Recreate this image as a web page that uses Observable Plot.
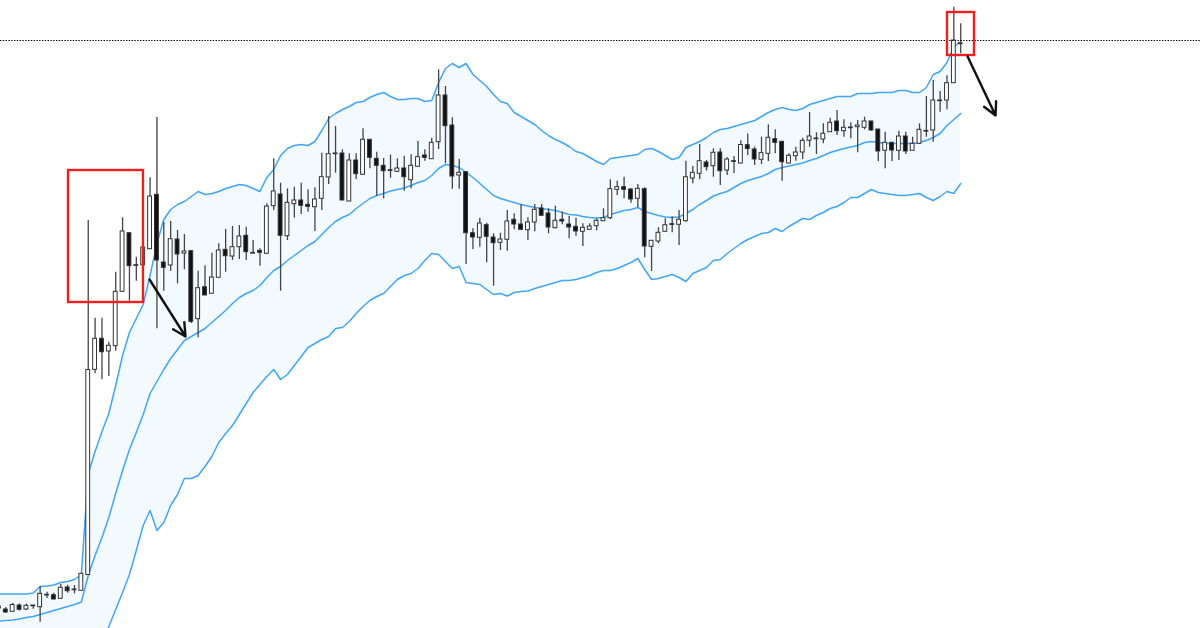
<!DOCTYPE html>
<html>
<head>
<meta charset="utf-8">
<style>html,body{margin:0;padding:0;background:#fff}svg{display:block}</style>
<script src="https://cdn.jsdelivr.net/npm/d3@7"></script>
<script src="https://cdn.jsdelivr.net/npm/@observablehq/plot@0.6"></script>
</head>
<body>
<div id="chart"></div>
<script>
// session index of the first value is -1
const high = [23,21,25,24.5,24.5,23,42,36.3,35.3,44,43.3,43,55.3,408,310.3,310.3,286.3,356.3,410.7,395.3,371.3,381,450.7,511,406.3,407,398,394,378,357.3,362.7,375.3,384.7,399,402,403,401.3,388,379.7,424.7,469.7,445.3,439.7,441.3,445.3,438.7,440.7,475.3,512,502,478.7,474.7,474.7,499.7,488.7,476.3,470,473.4,469.7,472.3,473.7,487,478.7,490.3,558.7,542,510.7,469,456.3,399.7,410.3,405.3,394.7,395.3,418,414.7,423.7,410.7,424,424,419.7,422.3,416.3,412,410.3,404.7,404.7,409.7,419.7,448.7,447.3,451.3,439.7,444,440.7,387.7,400.7,409.7,411.7,418,467.3,462,484,468,479.7,479.7,470.7,472,487.7,494.5,481.3,491.3,503.7,498.7,486.7,474.7,481.3,490.3,516,495.7,504.7,510.3,518,508.7,505.7,508,511.3,507.3,499,496.3,486.3,497.3,496.3,491.3,504.7,532,548,537,552.7,621.3,604.7];
const low = [19,15,16,17.5,18,19.3,6.3,30,28.7,29.5,35.3,34.7,37.3,53,254.7,248.7,252,277.3,336,327.3,347.3,363,378.7,299.7,337.3,357.3,344.7,358.7,305,290.7,333,334.7,350.7,356.3,368,369,368,374.7,362.3,374,418,337.3,388,410.3,414,416.3,397,418,444,455.3,428,427,449,453,459.7,432.3,429.7,450.2,456.3,437.3,439.7,461.3,467.3,469.3,479,464.7,439.3,439.3,364,379,381.3,365.7,342.3,378,377.3,398.7,398,388,396.7,412.7,394.7,399.7,403.7,389.7,392.3,382,398.7,397.7,407.3,409,433,429.7,425.3,420.7,370.7,357,384.7,396.3,395.7,383,406.3,444.7,449,457.3,451.3,443,453,455,464.7,473,463,464,467,474.7,447.3,464.7,467.3,469,481.3,474,484.7,496.3,493,491.3,489.7,475.7,498.7,497.3,467,459.7,467,468,474,477.7,484,491.3,486.3,516.3,518.7,545.3,574.7];
const open = [20,19,16.7,23,19,23,21.3,33.7,33.3,29.7,41,39,37.7,53.5,258.7,289.7,277,282.3,336.7,395.3,363.3,363.3,379.3,433.7,366,363,389,375,377.3,309.3,341.3,334.7,350.7,378.7,372,381.3,392.7,375.6,377.7,374.7,422.3,434,392.3,424.3,428,423.7,421.3,429.7,451,475,475,427,468,453.7,488.7,469.7,462.7,458.3,456.7,460,448.3,461.7,473,469.3,486.3,533,503,453,456.3,395.3,390.7,403.3,391,385.7,388.7,408.7,404,398.3,406,420,415,400.3,408.7,404,401.7,396.7,398.7,402.3,407.3,410.3,438.7,441.3,439,429.7,439.3,381.7,387,396.7,404.3,403.7,407.3,450,454.7,466,462.3,476,458,467.3,465,483.3,479,468.7,474.7,489.3,486.7,465,472.3,476,487.7,490,489,496.3,507,497.3,501,501.3,500.7,507,499,477.7,485.7,477.7,492,477.7,484.7,497.6,498,528,528,545.3,585];
const close = [22,16,23.5,18.7,22.7,22.2,34.7,33,29,40.7,37.3,38.3,54.7,258.5,289.7,276.3,282.7,336.7,397,362.3,362.6,381,432,368,360.7,389.3,374,377,306.7,340.3,333,351,378,372.3,381.3,392,376.3,374.9,375.7,422,437,392.7,425.7,428,422.7,421.7,429,451.3,474.3,474.3,428,468,454.3,488.7,470.7,462.7,457.3,457.6,460,451.3,462.7,471.3,470.7,485.7,533,502.3,452,455.7,395.3,391,405,391.7,385.3,389,407,404,398.7,406,418.7,412.7,401,407.7,407,401,397,400.7,402,407.7,410.3,439.3,441.3,438.7,429,439.7,382,387.7,395.7,403.3,403.6,408.7,451.3,455.7,467.3,461.3,475.7,457.3,469,466.6,483.5,479.5,469,475.3,490.7,485.7,466.3,472.7,476,487.7,492,489.3,494.7,505.7,497.3,500.7,500.3,503,507,498,477,485.7,478,492,477,484.7,498.7,496.9,528,527.3,545.3,588,584.3];
const upper = [34.5,34.5,34.5,34.5,34.5,35.5,42,42.5,43.5,46,47,49,54,155,177,197,215,243,273,296,310,324,353,385,409,419,424,427,432,437,434,435,437,440,442,444,443,440,437,451,459,473,480,483,484,483,487,498,510,515,519,522,526,527,531,534,536,532,529,529,530,530,527,528,546,560,565,561,565,554,548,542,534,527,525,516,512,508,504,498,493,489,486,482,477,475,471,467,464,470,471,472,473,474,479,480,477,473,469,471,481,484,487,491,496,499,500,502,504,506,508,512,516,519,521,519,518,520,524,526,528,530,532,532,532,535,535,535,536,536,536,538,538,536,536,541,554,557,566,582,587];
const middle = [7.5,8,8.5,9.5,11,12,14,16,18,20,22,24,26.5,53,73,91,111,135,158,179,196,214,235,247,259,270,279,288,292,296,300,306,312,318,325,331,335,338,343,351,358,362,368,373,378,383,387,394,401,407,411,414,420,425,430,433,435,437.5,439,440.5,443,446,448,453,460,464,463,461,456,451,445,439,433,430,428,426,424,422.5,421,420,419,418,416,414,413.5,412,411,410.5,411,414,416,418,419,421,417,415,413,411.5,411,411.5,415,419,424,428,432.5,435,437,441,445,448,450,452,455,459,461,462.5,464,465.5,468,470,473,476,478,480,481.5,483,486,487,486,485,485,485,485,485,486,488,491,495,503,509,515];
const lower = [-19,-18.5,-17.5,-15.5,-12.5,-11.5,-14,-10.5,-7.5,-6,-3,-1,-1,-49,-31,-15,2,19,36,54,78,103,118,98,106,123,134,150,150,153,162,172,186,195,203,214,225,236,244,252,259,249,254,263,272,281,285,289,292,300,301,307,315,322,328,332,335,342,349,353,355,360,368,375,374,367,360,362,346,345,344,339,334,335,332.5,336,337,337.5,340,342,344,346,348,348,349,351,353,356,358,358,360,363,366,370,359,349,350,352,354,351,347,355,358,361,368,369,375,380,385,389,392,395,396,400,397,402,406,410,409,413,416,420,422,426,431,431,435,439,436,435,434,433,433,434,435,431,428,432,437,435,445];

const resistance = 588;
const boxes = [
  {from: 9.13, to: 20.04, bottom: 326, top: 458},
  {from: 137.07, to: 141, bottom: 573, top: 616}
];
const arrows = [
  {from: 20.92, to: 26.16, start: 349, end: 292},
  {from: 140, to: 144.07, start: 572, end: 513}
];

const candles = high.map((h, i) => ({
  session: i - 1, high: h, low: low[i], open: open[i], close: close[i],
  upper: upper[i], middle: middle[i], lower: lower[i]
}));
const bandColor = "#42a5f5";

const chart = Plot.plot({
  width: 1200, height: 628,
  marginTop: 0, marginRight: 0, marginBottom: 0, marginLeft: 0,
  x: {domain: [-0.77, 173.9], range: [0, 1200], axis: null},
  y: {domain: [0, 628], range: [628, 0], axis: null},
  marks: [
    Plot.areaY(candles, {x: "session", y1: "lower", y2: "upper", fill: "#f2f9ff", clip: true}),
    Plot.line(candles, {x: "session", y: "upper", stroke: bandColor, strokeWidth: 1.5, curve: "linear"}),
    Plot.line(candles, {x: "session", y: "middle", stroke: bandColor, strokeWidth: 1.5, curve: "linear"}),
    Plot.line(candles, {x: "session", y: "lower", stroke: bandColor, strokeWidth: 1.5, curve: "linear", clip: true}),
    Plot.ruleX(candles, {x: "session", y1: "low", y2: "high", stroke: "#444", strokeWidth: 1.3}),
    Plot.rect(candles, {
      x1: d => d.session - 0.28, x2: d => d.session + 0.28,
      y1: "open", y2: "close",
      fill: d => d.close > d.open ? "#fff" : "#111",
      stroke: "#333", strokeWidth: 1
    }),
    Plot.ruleY([resistance], {stroke: "#000", strokeWidth: 1, strokeDasharray: "1.4,1.4"}),
    Plot.rect(boxes, {x1: "from", x2: "to", y1: "bottom", y2: "top", fill: "none", stroke: "#f01e1e", strokeWidth: 2.4}),
    Plot.arrow(arrows, {x1: "from", x2: "to", y1: "start", y2: "end", stroke: "#111", strokeWidth: 2.4, headLength: 9, headAngle: 55, bend: 0})
  ]
});
document.getElementById("chart").append(chart);
</script>
</body>
</html>
